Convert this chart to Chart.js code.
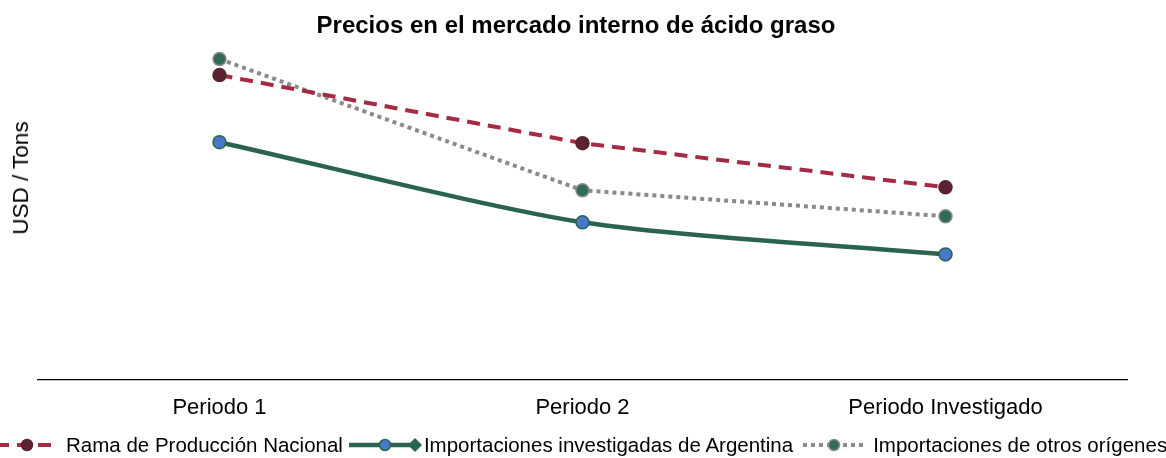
<!DOCTYPE html>
<html>
<head>
<meta charset="utf-8">
<script src="https://cdn.jsdelivr.net/npm/chart.js@4"></script>
<style>
  body { margin: 0; background: #fff; font-family: "Liberation Sans", Arial, sans-serif; }
  #wrap { position: relative; width: 1166px; height: 458px; overflow: hidden; }
  #title { position: absolute; left: 576px; top: 25px; transform: translate(-50%, -50%);
           font-size: 24px; font-weight: bold; color: #000; white-space: nowrap; }
  #yTitle { position: absolute; left: 21px; top: 178px; transform: translate(-50%, -50%) rotate(-90deg);
            font-size: 22.5px; color: #000; white-space: nowrap; }
  #legend { position: absolute; top: 433px; left: -4px;
            display: flex; align-items: center; white-space: nowrap; font-size: 20.5px; color: #000; }
  #legend canvas { display: block; }
</style>
</head>
<body>
<div id="wrap">
  <canvas id="chartId" width="1166" height="458"></canvas>
  <div id="title">Precios en el mercado interno de ácido graso</div>
  <div id="yTitle">USD / Tons</div>
  <div id="legend"></div>
</div>
<script>
const categories = ['Periodo 1', 'Periodo 2', 'Periodo Investigado'];
const ramaNacional = [304, 236, 192];
const importArgentina = [237, 157, 125];
const importOtros = [320, 189, 163];

const series = [
    { label: 'Rama de Producción Nacional', data: ramaNacional, line: '#a52a44', dash: [13, 8],
      point: '#5b2331', pointBorder: '#5b2331', width: 4, tension: 0,
      legendW: 62, ml: 0, mr: 8 },
    { label: 'Importaciones investigadas de Argentina', data: importArgentina, line: '#2b6351', dash: [],
      point: '#4a78c8', pointBorder: '#2b6351', width: 4.5, tension: 0.25,
      legendW: 74, ml: 6, mr: 1, diamond: true },
    { label: 'Importaciones de otros orígenes', data: importOtros, line: '#8a8a8a', dash: [4, 4],
      point: '#2f6b56', pointBorder: '#8a8a8a', width: 4, tension: 0,
      legendW: 62, ml: 10, mr: 8 }
];

const ctx = document.getElementById('chartId').getContext('2d');

new Chart(ctx, {
    type: 'line',
    data: {
        labels: categories,
        datasets: series.map(s => ({
            label: s.label,
            data: s.data,
            borderColor: s.line,
            borderDash: s.dash,
            borderWidth: s.width,
            tension: s.tension,
            pointRadius: 6.5,
            pointHoverRadius: 6.5,
            pointBackgroundColor: s.point,
            pointBorderColor: s.pointBorder,
            pointBorderWidth: 1.5,
            fill: false
        }))
    },
    options: {
        responsive: false,
        animation: false,
        layout: { padding: { left: 38, right: 39, top: 39, bottom: 30 } },
        plugins: {
            legend: { display: false },
            tooltip: { enabled: false },
            title: { display: false }
        },
        scales: {
            x: {
                offset: true,
                grid: { display: false },
                border: { display: true, color: '#000', width: 1.2 },
                ticks: {
                    color: '#000',
                    padding: 7,
                    font: { family: '"Liberation Sans", Arial, sans-serif', size: 22 }
                }
            },
            y: {
                display: false,
                min: 0,
                max: 340
            }
        }
    }
});

// legend drawn in HTML
const legend = document.getElementById('legend');
series.forEach(s => {
    const c = document.createElement('canvas');
    c.width = s.legendW; c.height = 22;
    c.style.marginLeft = s.ml + 'px';
    c.style.marginRight = s.mr + 'px';
    const g = c.getContext('2d');
    g.strokeStyle = s.line; g.lineWidth = s.width; g.setLineDash(s.dash);
    g.beginPath(); g.moveTo(0, 11); g.lineTo(s.diamond ? s.legendW - 8 : s.legendW, 11); g.stroke();
    g.setLineDash([]);
    const cx = s.diamond ? 36 : s.legendW / 2;
    g.beginPath(); g.arc(cx, 11, 5.5, 0, Math.PI * 2);
    g.fillStyle = s.point; g.fill();
    g.lineWidth = 1.5; g.strokeStyle = s.pointBorder; g.stroke();
    if (s.diamond) {
        const dx = s.legendW - 8;
        g.beginPath(); g.moveTo(dx - 7, 11); g.lineTo(dx, 4); g.lineTo(dx + 7, 11); g.lineTo(dx, 18); g.closePath();
        g.fillStyle = s.line; g.fill();
    }
    legend.appendChild(c);
    const t = document.createElement('span');
    t.textContent = s.label;
    legend.appendChild(t);
});
</script>
</body>
</html>
